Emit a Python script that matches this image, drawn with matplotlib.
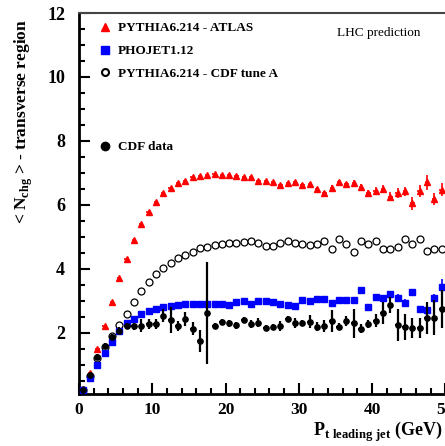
import matplotlib
matplotlib.use("Agg")
import matplotlib.pyplot as plt
from matplotlib.lines import Line2D
from matplotlib.ticker import MultipleLocator
import numpy as np

plt.rcParams['font.family'] = ['Liberation Serif', 'DejaVu Serif']
plt.rcParams['mathtext.fontset'] = 'custom'
plt.rcParams['mathtext.rm'] = 'Liberation Serif:bold'
plt.rcParams['mathtext.bf'] = 'Liberation Serif:bold'

# bin centres of leading jet pt (GeV)
pt = np.arange(0.5, 50, 1.0)

atlas = [0.25, 0.75, 1.49, 2.22, 2.97, 3.70, 4.31, 4.91, 5.41, 5.78,
         6.10, 6.37, 6.54, 6.68, 6.76, 6.87, 6.91, 6.94, 6.96, 6.94,
         6.92, 6.89, 6.87, 6.86, 6.75, 6.75, 6.72, 6.63, 6.67, 6.72,
         6.62, 6.64, 6.51, 6.36, 6.54, 6.71, 6.64, 6.68, 6.55, 6.37,
         6.43, 6.49, 6.25, 6.37, 6.42, 6.05, 6.43, 6.70, 6.18, 6.48]
atlas_err = [0.02] * 30 + [0.05, 0.05, 0.06, 0.06, 0.07, 0.08, 0.08, 0.09, 0.1, 0.1,
                           0.12, 0.12, 0.14, 0.15, 0.15, 0.2, 0.18, 0.22, 0.19, 0.2]

phojet = [0.20, 0.58, 1.00, 1.36, 1.70, 2.04, 2.30, 2.43, 2.58, 2.67,
          2.74, 2.80, 2.84, 2.86, 2.89, 2.89, 2.90, 2.91, 2.91, 2.90,
          2.88, 2.96, 3.00, 2.91, 3.00, 3.00, 2.95, 2.89, 2.88, 2.83,
          3.02, 2.98, 3.06, 3.05, 2.93, 3.01, 3.03, 3.03, 3.33, 2.80,
          3.12, 3.08, 3.22, 3.10, 2.94, 3.27, 2.75, 2.72, 3.08, 3.43]
phojet_err = [0.02] * 30 + [0.03, 0.03, 0.04, 0.04, 0.05, 0.05, 0.05, 0.06, 0.08, 0.08,
                            0.09, 0.1, 0.1, 0.1, 0.1, 0.1, 0.1, 0.12, 0.12, 0.25]

cdf_tune = [0.20, 0.65, 1.20, 1.55, 1.90, 2.23, 2.60, 2.96, 3.31, 3.59,
            3.83, 4.02, 4.18, 4.33, 4.44, 4.52, 4.64, 4.69, 4.74, 4.78,
            4.80, 4.82, 4.83, 4.86, 4.80, 4.70, 4.71, 4.81, 4.86, 4.80,
            4.76, 4.74, 4.79, 4.88, 4.61, 4.92, 4.79, 4.54, 4.87, 4.76,
            4.87, 4.61, 4.61, 4.68, 4.94, 4.78, 4.92, 4.56, 4.61, 4.61]

cdf_data = [0.20, 0.69, 1.24, 1.59, 1.86, 2.07, 2.22, 2.20, 2.22, 2.28,
            2.28, 2.53, 2.39, 2.22, 2.43, 2.13, 1.75, 2.62, 2.22, 2.33,
            2.29, 2.23, 2.39, 2.27, 2.32, 2.15, 2.18, 2.21, 2.44, 2.31,
            2.31, 2.35, 2.19, 2.21, 2.36, 2.19, 2.37, 2.30, 2.13, 2.28,
            2.38, 2.61, 2.86, 2.24, 2.18, 2.15, 2.15, 2.47, 2.47, 2.74]
cdf_err = [0.05, 0.05, 0.08, 0.08, 0.1, 0.1, 0.1, 0.12, 0.2, 0.15,
           0.15, 0.2, 0.4, 0.15, 0.22, 0.2, 0.35, 1.6, 0.1, 0.1,
           0.1, 0.1, 0.1, 0.12, 0.15, 0.1, 0.1, 0.15, 0.08, 0.15,
           0.1, 0.2, 0.15, 0.2, 0.35, 0.1, 0.15, 0.45, 0.15, 0.12,
           0.2, 0.35, 0.25, 0.5, 0.4, 0.3, 0.3, 0.5, 0.55, 0.6]

fig = plt.figure(figsize=(4.45, 4.46), dpi=100)
ax = fig.add_axes([79 / 445, 52.5 / 446, 367 / 445, 380.5 / 446])

ax.errorbar(pt, atlas, yerr=atlas_err, xerr=0.3, fmt='^', color='red', ms=3.8,
            elinewidth=1.2, capsize=0, zorder=2)
ax.plot(pt, cdf_tune, 'o', mfc='white', mec='black', ms=5, mew=0.9, zorder=3)
ax.errorbar(pt, phojet, yerr=phojet_err, fmt='s', color='blue', ms=4,
            elinewidth=1.2, capsize=0, zorder=4)
ax.errorbar(pt, cdf_data, yerr=cdf_err, xerr=0.35, fmt='o', color='black', ms=3.8,
            elinewidth=1.6, capsize=0, zorder=5)

ax.set_xlim(0, 50.1)
ax.set_ylim(0.1, 12)
ax.xaxis.set_major_locator(MultipleLocator(10))
ax.xaxis.set_minor_locator(MultipleLocator(2))
ax.yaxis.set_major_locator(MultipleLocator(2))
ax.yaxis.set_minor_locator(MultipleLocator(0.5))
ax.tick_params(which='both', direction='in', top=False, right=False, width=1.5)
ax.tick_params(which='major', length=8)
ax.tick_params(which='minor', length=4.5)
ax.tick_params(axis='x', which='major', labelsize=12.5, pad=6)
ax.tick_params(axis='y', which='major', labelsize=13, pad=10)
for lab in ax.get_xticklabels() + ax.get_yticklabels():
    lab.set_fontweight('bold')

ax.spines['left'].set_linewidth(2)
ax.spines['bottom'].set_linewidth(2)
ax.spines['top'].set_linewidth(1.5)
ax.spines['top'].set_color('#444444')
ax.spines['right'].set_visible(False)

# legend, split in two blocks like the original
leg_font = {'family': 'Liberation Serif', 'weight': 'bold', 'size': 9.5}
h1 = [Line2D([], [], marker='^', ls='', color='red', ms=6),
      Line2D([], [], marker='s', ls='', color='blue', ms=6),
      Line2D([], [], marker='o', ls='', mfc='white', mec='black', mew=1.5, ms=5)]
leg1 = ax.legend(h1, ['PYTHIA6.214 - ATLAS', 'PHOJET1.12', 'PYTHIA6.214 - CDF tune A'],
                 loc='upper left', bbox_to_anchor=(0.055, 0.976), frameon=False,
                 borderpad=0, borderaxespad=0, handlelength=0.9, handletextpad=0.5,
                 labelspacing=0.8, prop=leg_font)
ax.add_artist(leg1)
h2 = [Line2D([], [], marker='o', ls='', color='black', ms=6)]
ax.legend(h2, ['CDF data'], loc='upper left', bbox_to_anchor=(0.055, 0.663), frameon=False,
          borderpad=0, borderaxespad=0, handlelength=0.9, handletextpad=0.5,
          prop=leg_font)

ax.text(0.703, 0.947, 'LHC prediction', transform=ax.transAxes, fontsize=9.5,
        ha='left', va='center')

fig.text(24 / 445, 1 - 121 / 446, r'< N$_{\mathbf{chg}}$ > - transverse region',
         rotation=90, ha='center', va='center', fontsize=12.5, fontweight='bold')
fig.text(443 / 445, 1 - 436 / 446, r'P$_{\mathbf{t\ leading\ jet}}$ (GeV)',
         ha='right', va='baseline', fontsize=13, fontweight='bold')

fig.savefig('out.png', dpi=100)
